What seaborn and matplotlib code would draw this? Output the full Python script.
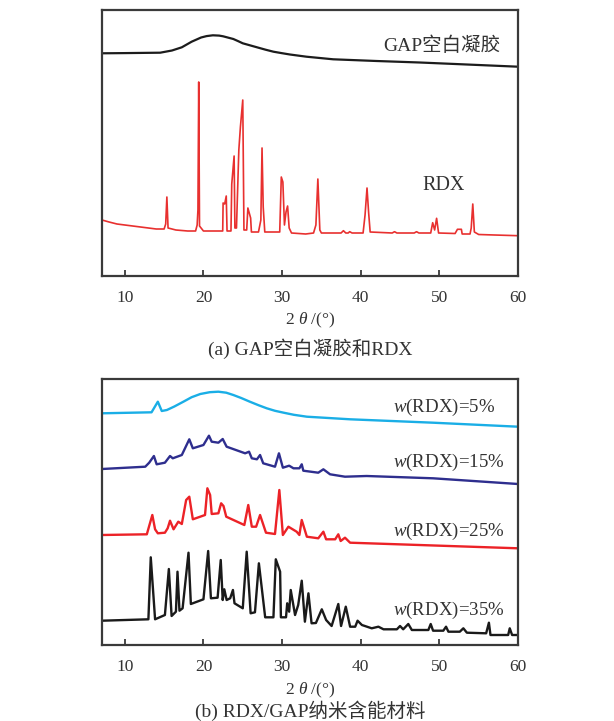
import numpy as np
import pandas as pd
import matplotlib
matplotlib.use("Agg")
import matplotlib.pyplot as plt
import seaborn as sns

# ---------------- data ----------------
gap_x = [7.1, 10, 14.5, 16.0, 17.25, 18.5, 19.7, 20.4, 21.2, 22.0, 22.5, 23.8, 24.4, 25.0, 26.9, 27.9, 28.9, 30.0, 31.0,
         33.1, 36.5, 42.0, 47.5, 52.0, 60.0]
gap_y = [222.4, 222.6, 223.0, 225.2, 228.4, 234.0, 238.2, 239.6, 240.4, 240.1, 239.4, 236.7, 234.6, 232.4, 228.2, 226.0,
         224.0, 222.5, 221.2, 219.0, 216.4, 214.7, 213.2, 211.7, 209.0]

rdx_x = [7.1, 8.0, 9.0, 10.0, 11.0, 12.0, 13.0, 14.0, 15.0, 15.2, 15.35, 15.5, 16.5, 18.0, 19.0, 19.2, 19.3, 19.4, 19.5,
         20.0, 22.45, 22.5, 22.7, 22.9, 23.0, 23.5, 23.6, 23.9, 24.0, 24.2, 24.5, 24.7, 25.0, 25.15, 25.5, 25.65, 26.0,
         26.1, 27.0, 27.3, 27.45, 27.6, 27.8, 29.7, 29.9, 30.1, 30.3, 30.5, 30.7, 30.9, 31.2, 33.0, 34.0, 34.3, 34.55,
         34.8, 35.0, 37.5, 37.8, 38.1, 38.4, 38.6, 38.9, 40.3, 40.55, 40.8, 41.0, 41.2, 44.0, 44.3, 44.6, 46.8, 47.1,
         47.4, 48.9, 49.15, 49.4, 49.65, 49.9, 52.0, 52.3, 52.8, 52.9, 53.9, 54.05, 54.25, 54.45, 55.0, 57.0, 60.0]
rdx_y = [55.7, 53.7, 51.7, 50.7, 49.7, 48.7, 47.7, 46.7, 46.7, 51.7, 78.7, 47.7, 45.7, 44.7, 44.7, 50.7, 65.7, 193.7, 49.7,
         44.7, 44.7, 72.7, 71.7, 79.7, 44.7, 44.7, 91.7, 119.7, 47.7, 47.7, 125.7, 148.7, 175.7, 45.7, 45.7, 67.7, 57.7,
         43.7, 43.7, 55.7, 127.7, 68.7, 43.7, 43.7, 98.7, 93.7, 50.7, 63.7, 69.7, 47.7, 42.7, 41.7, 42.7, 50.7, 96.7,
         45.7, 42.7, 42.7, 45.0, 42.7, 42.7, 44.0, 42.7, 42.7, 60.7, 87.7, 63.7, 43.7, 42.7, 44.0, 42.7, 42.7, 44.0,
         42.7, 42.7, 53.0, 45.7, 57.4, 42.7, 42.2, 46.4, 46.4, 41.7, 41.7, 47.7, 71.7, 43.7, 41.2, 40.7, 40.0]

w5_x = [7.1, 13.4, 14.2, 14.7, 15.35, 16.3, 17.45, 18.5, 19.6, 20.8, 21.9, 22.9, 23.8, 24.8, 25.9, 27.0, 28.05, 29.1,
        30.2, 31.5, 33.15, 38.65, 49.2, 60.0]
w5_y = [231.7, 232.7, 243.3, 234.0, 235.0, 238.5, 243.3, 247.8, 251.0, 252.8, 253.3, 252.3, 250.0, 247.0, 243.3, 239.8,
        236.7, 234.2, 232.3, 230.2, 228.3, 225.7, 222.3, 218.3]

w15_x = [7.1, 12.6, 13.1, 13.7, 14.05, 15.1, 15.75, 16.1, 17.25, 18.2, 18.65, 20.0, 20.7, 21.05, 21.9, 22.45, 22.95,
         25.3, 25.8, 26.15, 26.8, 27.2, 27.6, 29.1, 29.6, 30.1, 30.9, 31.45, 32.2, 32.5, 32.7, 34.6, 35.25, 36.1, 38.0,
         40.75, 49.2, 60.0]
w15_y = [176.0, 178.3, 182.3, 189.0, 180.7, 182.3, 189.0, 186.7, 190.0, 205.7, 196.7, 200.0, 209.3, 203.3, 202.3, 206.0, 198.3,
         191.7, 193.3, 186.7, 185.7, 190.0, 181.7, 178.3, 191.7, 177.3, 179.3, 176.7, 176.7, 180.7, 174.3, 172.3, 175.7, 170.7, 168.3,
         169.0, 166.7, 161.0]

w25_x = [7.1, 12.8, 13.1, 13.5, 13.85, 14.2, 15.1, 15.45, 15.75, 16.2, 16.8, 17.25, 17.8, 18.2, 18.65, 20.2, 20.5, 20.85,
         21.05, 21.9, 22.25, 22.55, 22.9, 25.2, 25.7, 26.15, 26.7, 27.2, 27.95, 29.1, 29.65, 30.1, 30.8, 31.85, 32.2, 32.5,
         33.15, 34.6, 35.25, 35.6, 36.75, 37.15, 37.45, 38.0, 38.65, 60.0]
w25_y = [110.0, 110.7, 119.0, 130.0, 115.7, 111.7, 112.3, 116.7, 124.3, 115.7, 123.3, 121.0, 145.0, 148.3, 125.7, 130.0, 156.7, 150.0,
         131.0, 131.7, 141.7, 139.0, 128.3, 120.0, 140.0, 118.3, 118.3, 130.0, 112.3, 111.0, 155.0, 110.0, 118.3, 113.3, 110.0, 125.0,
         108.3, 106.7, 113.3, 105.7, 105.7, 110.7, 104.0, 107.3, 102.3, 96.7]

w35_x = [7.1, 13.0, 13.3, 13.85, 15.1, 15.6, 15.95, 16.5, 16.7, 16.95, 17.35, 18.1, 18.4, 20.0, 20.6, 20.95, 21.8, 22.2,
         22.45, 22.65, 22.95, 23.4, 23.75, 23.95, 25.0, 25.5, 26.0, 26.55, 27.05, 27.85, 28.9, 29.2, 29.75, 29.85, 30.5,
         30.65, 30.9, 31.1, 31.65, 32.05, 32.5, 32.9, 33.35, 33.75, 34.3, 35.05, 35.6, 36.3, 37.15, 37.5, 38.1, 38.65,
         39.3, 39.6, 40.15, 41.4, 42.25, 42.9, 44.6, 45.0, 45.4, 46.05, 46.5, 48.6, 48.9, 49.2, 50.5, 50.85, 51.15, 52.6,
         53.05, 53.5, 55.95, 56.3, 56.5, 58.75, 58.95, 59.25, 60.0]
w35_y = [24.3, 25.7, 87.7, 25.7, 30.0, 76.0, 29.0, 33.3, 73.3, 34.3, 36.7, 92.3, 41.0, 45.7, 94.0, 46.7, 47.3, 85.0,
         45.0, 55.7, 45.0, 46.7, 55.0, 41.7, 36.7, 93.3, 31.7, 32.7, 81.7, 27.7, 27.7, 85.7, 73.3, 27.7, 27.7,
         41.7, 33.3, 55.0, 30.0, 40.0, 64.3, 23.3, 51.7, 21.7, 22.0, 35.7, 25.0, 19.0, 41.0, 19.0, 38.3, 18.3,
         18.3, 24.3, 20.0, 16.7, 18.3, 15.7, 15.7, 19.0, 15.7, 21.0, 15.0, 15.0, 21.0, 14.3, 14.3, 18.3, 13.3, 13.3,
         16.7, 12.3, 11.7, 22.3, 10.0, 10.0, 16.7, 10.0, 10.0]

xticks = [10, 20, 30, 40, 50, 60]
top_labels = ["GAP空白凝胶", "RDX"]
bottom_labels = ["$w$(RDX)=5%", "$w$(RDX)=15%", "$w$(RDX)=25%", "$w$(RDX)=35%"]
xlabel = r"2 $\theta$ /(°)"
caption_a = "(a) GAP空白凝胶和RDX"
caption_b = "(b) RDX/GAP纳米含能材料"

# ---------------- style ----------------
sns.set_style("white")
plt.rcParams["font.family"] = ["Liberation Serif", "Noto Sans CJK SC", "DejaVu Sans"]
plt.rcParams["mathtext.fontset"] = "custom"
plt.rcParams["mathtext.rm"] = "Liberation Serif"
plt.rcParams["mathtext.it"] = "Liberation Serif:italic"
TXT = "#333333"
SPINE = "#3a3a3a"

fig = plt.figure(figsize=(6.14, 7.21), dpi=100)
ax1 = fig.add_axes([102 / 614, 1 - 275.7 / 721, 416 / 614, 265.4 / 721])
ax2 = fig.add_axes([102 / 614, 1 - 645 / 721, 416 / 614, 266 / 721])

def frame(ax, ylim):
    ax.set_xlim(7.1, 60)
    ax.set_ylim(*ylim)
    ax.set_xticks(xticks)
    ax.set_xticklabels([str(t) for t in xticks])
    ax.set_yticks([])
    ax.set_xlabel("")
    ax.set_ylabel("")
    for s in ax.spines.values():
        s.set_color(SPINE)
        s.set_linewidth(1.6)
        s.set_visible(True)
    ax.tick_params(axis="x", direction="in", length=4.5, width=1.3, color=SPINE,
                   labelsize=12.5, labelcolor=TXT, pad=10, bottom=True, top=False)
    ax.legend_ = None

df_gap = pd.DataFrame({"x": gap_x, "y": gap_y})
df_rdx = pd.DataFrame({"x": rdx_x, "y": rdx_y})
sns.lineplot(data=df_gap, x="x", y="y", ax=ax1, color="#1c1c1c", linewidth=1.6, sort=False, estimator=None)
sns.lineplot(data=df_rdx, x="x", y="y", ax=ax1, color="#e8302f", linewidth=1.2, sort=False, estimator=None)
frame(ax1, (0, 265.4))
ax1.text(57.7, 229.7, top_labels[0], ha="right", va="center", fontsize=14, color=TXT)
ax1.text(50.5, 89.7, top_labels[1], ha="center", va="center", fontsize=14.5, color=TXT)

series = [(w5_x, w5_y, "#1aaee6"), (w15_x, w15_y, "#2e2e8e"), (w25_x, w25_y, "#ec2227"), (w35_x, w35_y, "#1a1a1a")]
label_y = [237.7, 182.3, 114.0, 35.0]
for (xs, ys, c), lab, ly in zip(series, bottom_labels, label_y):
    d = pd.DataFrame({"x": xs, "y": ys})
    sns.lineplot(data=d, x="x", y="y", ax=ax2, color=c, linewidth=1.7, sort=False, estimator=None)
    ax2.text(44.1, ly, lab, ha="left", va="center", fontsize=13.6, color=TXT)
frame(ax2, (0, 266))

fig.text(310 / 614, 1 - 320 / 721, xlabel, ha="center", va="center", fontsize=12.5, color=TXT)
fig.text(310 / 614, 1 - 348.3 / 721, caption_a, ha="center", va="center", fontsize=14, color=TXT)
fig.text(310 / 614, 1 - 690 / 721, xlabel, ha="center", va="center", fontsize=12.5, color=TXT)
fig.text(310 / 614, 1 - 711 / 721, caption_b, ha="center", va="center", fontsize=14, color=TXT)

fig.savefig("out.png", dpi=100, facecolor="white")
